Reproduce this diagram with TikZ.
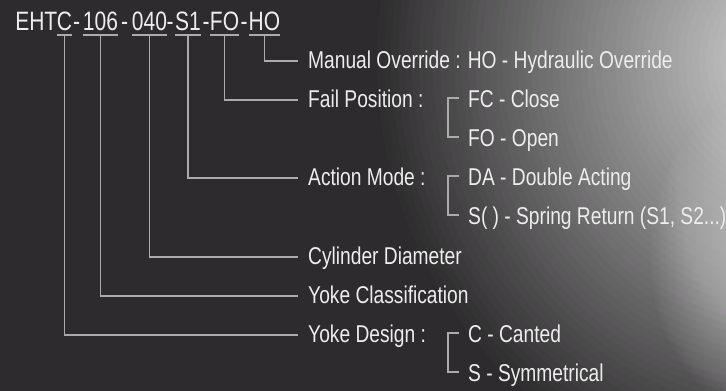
\documentclass[tikz,border=0pt]{standalone}
\usepackage{fontspec}
\newfontfamily\lblfamily[FakeStretch=0.79]{Liberation Sans}
\newfontfamily\ttlfamily[FakeStretch=0.79]{Liberation Sans}
\definecolor{bgc}{HTML}{2D2B2D}
\definecolor{linec}{HTML}{ABABAB}
\definecolor{txtc}{HTML}{EDEDED}
\definecolor{glowa}{gray}{0.83}
\tikzset{
  lbl/.style={anchor=west, inner sep=0pt, text height=14pt, text depth=0pt,
    text=txtc, font=\lblfamily\fontsize{24.3}{28}\selectfont},
  ttl/.style={anchor=base, inner sep=0pt, text=txtc,
    font=\ttlfamily\fontsize{26.6}{30}\selectfont},
  ln/.style={draw=linec, line width=1.2pt},
}
\begin{document}
\begin{tikzpicture}[x=1pt, y=-1pt]
\useasboundingbox (0pt,0pt) rectangle (726pt,-391pt);
\begin{scope}
\clip (0pt,0pt) rectangle (726pt,-391pt);
\fill[bgc] (0pt,0pt) rectangle (726pt,-391pt);
% broad glow, top right
\foreach \i [evaluate=\i as \p using 100*\i/60,
             evaluate=\i as \rx using (1-\i/60)*420,
             evaluate=\i as \ry using (1-\i/60)*440] in {0,...,59}
  { \fill[glowa!\p!bgc] (790pt,-60pt) ellipse [x radius=\rx pt, y radius=\ry pt]; }
% bright spot, right edge
\foreach \i [evaluate=\i as \rx using (1-\i/40)*120,
             evaluate=\i as \ry using (1-\i/40)*160] in {0,...,39}
  { \fill[white, fill opacity=0.02] (770pt,-255pt) ellipse [x radius=\rx pt, y radius=\ry pt]; }
\end{scope}

% title, segment by segment
\node[ttl, anchor=base east] (sE) at (57.5,30) {EHT};
\node[ttl] (sC) at (64.5,30) {C};
\node[ttl] (h1) at (76.5,30) {-};
\node[ttl] (sY) at (100.5,30) {106};
\node[ttl] (h2) at (124.5,30) {-};
\node[ttl] (sD) at (149.5,30) {040};
\node[ttl] (h3) at (170,30) {-};
\node[ttl] (sA) at (188,30) {S1};
\node[ttl] (h4) at (206,30) {-};
\node[ttl] (sF) at (224.5,30) {FO};
\node[ttl] (h5) at (244,30) {-};
\node[ttl] (sH) at (264.5,30) {HO};

% labels
\node[lbl] (mo) at (308,61)  {Manual Override : HO - Hydraulic Override};
\node[lbl] (fp) at (308,100) {Fail Position :};
\node[lbl] (fc) at (468,100) {FC - Close};
\node[lbl] (fo) at (468,139) {FO - Open};
\node[lbl] (am) at (308,178) {Action Mode :};
\node[lbl] (da) at (468,178) {DA - Double Acting};
\node[lbl] (sr) at (468,217) {S( ) - Spring Return (S1, S2...)};
\node[lbl] (cd) at (308,257) {Cylinder Diameter};
\node[lbl] (yc) at (308,296) {Yoke Classification};
\node[lbl] (yd) at (308,335) {Yoke Design :};
\node[lbl] (cc) at (468,335) {C - Canted};
\node[lbl] (ss) at (468,374) {S - Symmetrical};

% underlines under the code segments
\foreach \s in {sC,sY,sD,sA,sF,sH}
  { \draw[ln] ([yshift=-4.5pt]\s.south west) -- ([yshift=-4.5pt]\s.south east); }

% connectors from segments to their labels
\draw[ln] ([yshift=-4.5pt]sH.south) |- ([xshift=-10pt]mo.west);
\draw[ln] ([yshift=-4.5pt]sF.south) |- ([xshift=-10pt]fp.west);
\draw[ln] ([yshift=-4.5pt]sA.south) |- ([xshift=-10pt]am.west);
\draw[ln] ([yshift=-4.5pt]sD.south) |- ([xshift=-10pt]cd.west);
\draw[ln] ([yshift=-4.5pt]sY.south) |- ([xshift=-10pt]yc.west);
\draw[ln] ([yshift=-4.5pt]sC.south) |- ([xshift=-10pt]yd.west);

% brackets
\draw[ln] ([xshift=-9pt,yshift=2pt]fc.west) -- ++(-11,0) |- ([xshift=-9pt,yshift=2pt]fo.west);
\draw[ln] ([xshift=-9pt,yshift=2pt]da.west) -- ++(-11,0) |- ([xshift=-9pt,yshift=2pt]sr.west);
\draw[ln] ([xshift=-9pt,yshift=2pt]cc.west) -- ++(-11,0) |- ([xshift=-9pt,yshift=2pt]ss.west);
\end{tikzpicture}
\end{document}
